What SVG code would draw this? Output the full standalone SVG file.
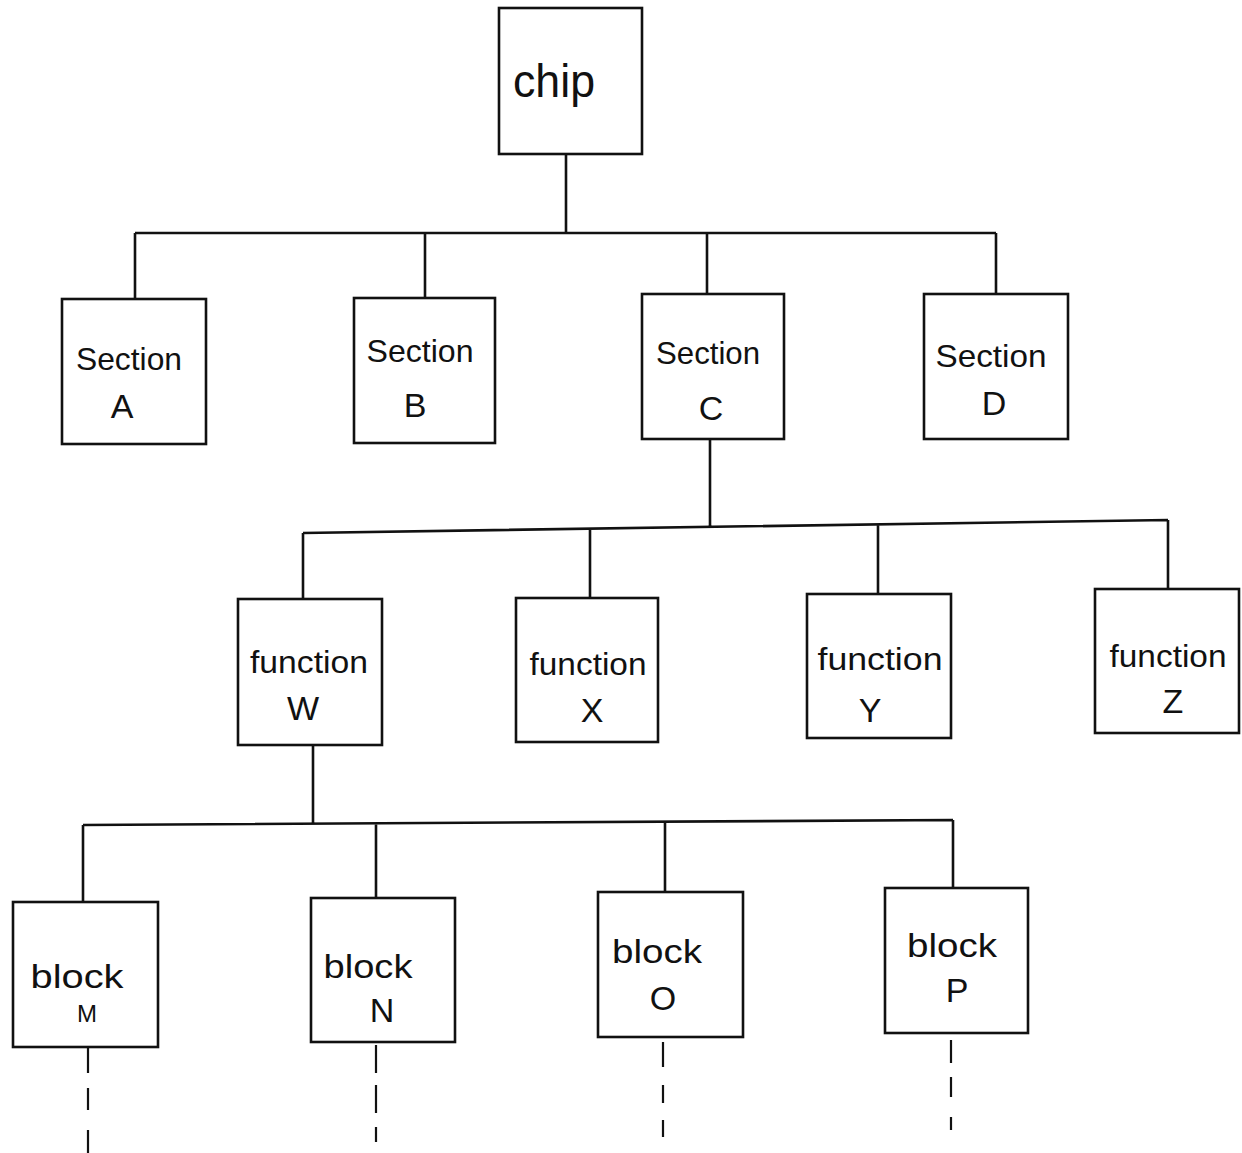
<svg xmlns="http://www.w3.org/2000/svg" width="1242" height="1153" viewBox="0 0 1242 1153">
<style>
.box{fill:none;stroke:#111;stroke-width:2.6}
.ln{fill:none;stroke:#111;stroke-width:2.6;stroke-linecap:butt}
.dash{fill:none;stroke:#111;stroke-width:2.2}
text{font-family:"Liberation Sans","DejaVu Sans",sans-serif;fill:#111;text-anchor:middle}
.w{font-size:32px}
.l{font-size:34px}
.big{font-size:46px}
</style>
<rect width="1242" height="1153" fill="#fff"/>
<g id="connectors">
<path class="ln" d="M566 154V233M135 233H996M135 233V299M425 233V298M707 233V294M996 233V294"/>
<path class="ln" d="M710 439V527M303 533L1168 520M303 533V599M590 529V598M878 525V594M1168 520V589"/>
<path class="ln" d="M313 745V824M83 825L953 820M83 825V902M376 823V898M665 821V892M953 820V888"/>
<path class="dash" d="M88 1048V1073M88 1088V1110M88 1130V1153M376 1045V1073M376 1085V1113M376 1127V1142M663 1042V1067M663 1085V1103M663 1120V1137M951 1040V1063M951 1077V1097M951 1117V1130"/>
</g>
<g id="chip"><rect class="box" x="499" y="8" width="143" height="146"/><text class="big" x="554" y="97" textLength="82" lengthAdjust="spacingAndGlyphs">chip</text></g>
<g id="sectionA"><rect class="box" x="62" y="299" width="144" height="145"/><text class="w" x="129" y="370" textLength="106" lengthAdjust="spacingAndGlyphs">Section</text><text class="l" x="122" y="418">A</text></g>
<g id="sectionB"><rect class="box" x="354" y="298" width="141" height="145"/><text class="w" x="420" y="362" textLength="107" lengthAdjust="spacingAndGlyphs">Section</text><text class="l" x="415" y="417">B</text></g>
<g id="sectionC"><rect class="box" x="642" y="294" width="142" height="145"/><text class="w" x="708" y="364" textLength="104" lengthAdjust="spacingAndGlyphs">Section</text><text class="l" x="711" y="420">C</text></g>
<g id="sectionD"><rect class="box" x="924" y="294" width="144" height="145"/><text class="w" x="991" y="367" textLength="111" lengthAdjust="spacingAndGlyphs">Section</text><text class="l" x="994" y="415">D</text></g>
<g id="functionW"><rect class="box" x="238" y="599" width="144" height="146"/><text class="w" x="309" y="673" textLength="118" lengthAdjust="spacingAndGlyphs">function</text><text class="l" x="303" y="720">W</text></g>
<g id="functionX"><rect class="box" x="516" y="598" width="142" height="144"/><text class="w" x="588" y="675" textLength="117" lengthAdjust="spacingAndGlyphs">function</text><text class="l" x="592" y="722">X</text></g>
<g id="functionY"><rect class="box" x="807" y="594" width="144" height="144"/><text class="w" x="880" y="670" textLength="125" lengthAdjust="spacingAndGlyphs">function</text><text class="l" x="870" y="722">Y</text></g>
<g id="functionZ"><rect class="box" x="1095" y="589" width="144" height="144"/><text class="w" x="1168" y="667" textLength="117" lengthAdjust="spacingAndGlyphs">function</text><text class="l" x="1173" y="713">Z</text></g>
<g id="blockM"><rect class="box" x="13" y="902" width="145" height="145"/><text class="l" x="77" y="988" textLength="93" lengthAdjust="spacingAndGlyphs">block</text><text x="87" y="1022" style="font-size:24px">M</text></g>
<g id="blockN"><rect class="box" x="311" y="898" width="144" height="144"/><text class="l" x="368" y="978" textLength="89" lengthAdjust="spacingAndGlyphs">block</text><text class="l" x="382" y="1022">N</text></g>
<g id="blockO"><rect class="box" x="598" y="892" width="145" height="145"/><text class="l" x="657" y="963" textLength="90" lengthAdjust="spacingAndGlyphs">block</text><text class="l" x="663" y="1010">O</text></g>
<g id="blockP"><rect class="box" x="885" y="888" width="143" height="145"/><text class="l" x="952" y="957" textLength="90" lengthAdjust="spacingAndGlyphs">block</text><text class="l" x="957" y="1002">P</text></g>
</svg>
